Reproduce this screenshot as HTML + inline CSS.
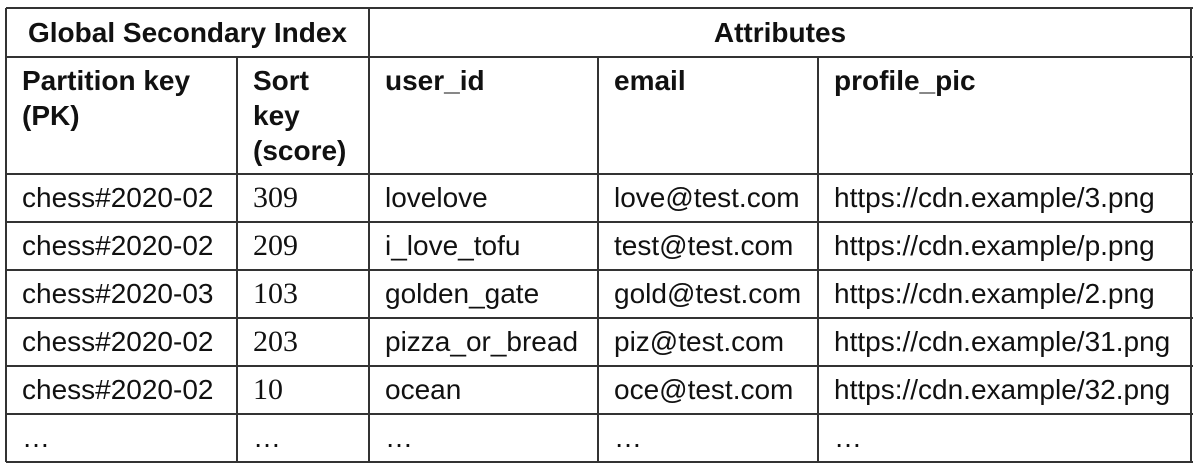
<!DOCTYPE html>
<html><head><meta charset="utf-8"><style>
body{margin:0;width:1200px;height:469px;background:#fff;position:relative;overflow:hidden;font-family:"Liberation Sans",sans-serif;color:#111}
.l{position:absolute;background:#333}
.t{position:absolute;font-size:28px;line-height:35px;white-space:nowrap}
.b{font-weight:bold}
.s{font-family:"Liberation Serif",serif;font-size:30px}
</style></head><body>
<div id="tbl"></div>
<script>
const cols=[6,237,369,598,818,1191];
const rows=[8,57,174,222,270,318,366,414,462];
const colHeaders=[["Partition key","(PK)"],["Sort","key","(score)"],["user_id"],["email"],["profile_pic"]];
const pk=["chess#2020-02","chess#2020-02","chess#2020-03","chess#2020-02","chess#2020-02","…"];
const scores=["309","209","103","203","10","…"];
const userIds=["lovelove","i_love_tofu","golden_gate","pizza_or_bread","ocean","…"];
const emails=["love@test.com","test@test.com","gold@test.com","piz@test.com","oce@test.com","…"];
const pics=["https://cdn.example/3.png","https://cdn.example/p.png","https://cdn.example/2.png","https://cdn.example/31.png","https://cdn.example/32.png","…"];
const T=document.getElementById('tbl');
function line(x,y,w,h,n){const d=document.createElement('div');d.className='l';d.style.cssText=`left:${x}px;top:${y}px;width:${w}px;height:${h}px`;


T.appendChild(d);}
function text(x,y,s,cls,n,w){const d=document.createElement('div');d.className='t '+(cls||'');d.innerHTML=s;d.style.left=x+'px';d.style.top=y+'px';if(w){d.style.width=w+'px';d.style.textAlign='center';}


T.appendChild(d);}
rows.forEach((y,i)=>line(cols[0],y-1,cols[5]-cols[0]+2,2,'row-border-'+i));
line(cols[0]-1,rows[0],2,rows[8]-rows[0],'left-border');
line(cols[5]-1,rows[0],2,rows[8]-rows[0],'right-border');
line(cols[2]-1,rows[0],2,rows[8]-rows[0],'group-divider');
[1,3,4].forEach(c=>line(cols[c]-1,rows[1],2,rows[8]-rows[1],'col-border-'+c));
text(cols[0],rows[0]+7,'Global Secondary Index','b','gsi-group-header',cols[2]-cols[0]);
text(cols[2],rows[0]+7,'Attributes','b','attributes-group-header',cols[5]-cols[2]);
colHeaders.forEach((h,c)=>text(cols[c]+16,rows[1]+6,h.join('<br>'),'b','column-header-'+c));
const data=[pk,scores,userIds,emails,pics];
data.forEach((arr,c)=>arr.forEach((v,r)=>text(cols[c]+16,rows[r+2]+6,v,(c==1&&v!='…')?'s':'','cell-r'+r+'-c'+c)));
</script>
</body></html>
